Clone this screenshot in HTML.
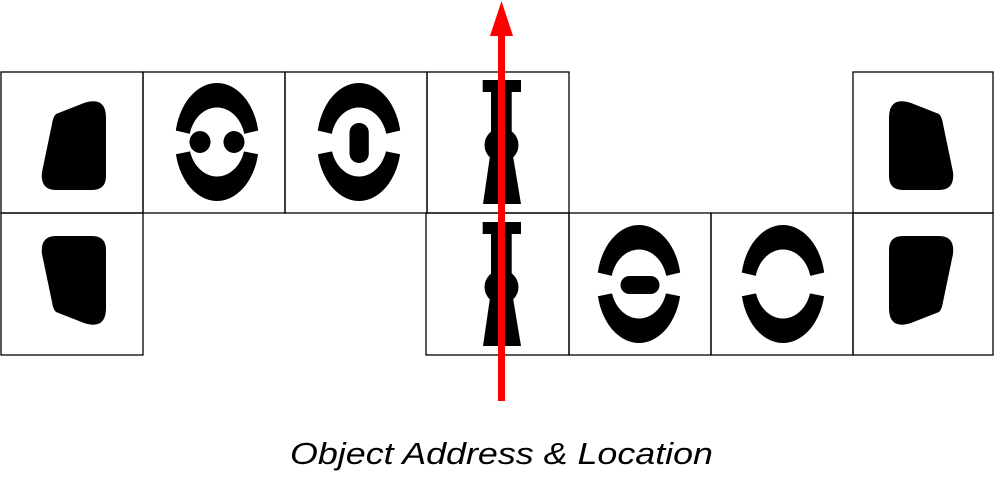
<!DOCTYPE html>
<html><head><meta charset="utf-8"><style>html,body{margin:0;padding:0;background:#fff}svg{display:block}</style></head>
<body>
<svg width="995" height="479" viewBox="0 0 995 479" xmlns="http://www.w3.org/2000/svg">
<defs>
<path id="blob" d="M56,42 L84,31 Q106,24 106,46 L106,104 Q106,118 92,118 L56,118 Q40,118 42,100 L52,52 Q53,45 56,42 Z" fill="#000"/>
<g id="ring">
<ellipse cx="0" cy="0" rx="42" ry="59" fill="#000"/>
<ellipse cx="0" cy="0" rx="28" ry="34.5" fill="#fff"/>
<polygon points="-50,-13.5 -20,-6.5 -20,8 -50,14" fill="#fff"/>
<polygon points="50,-13.5 20,-6.5 20,8 50,14" fill="#fff"/>
</g>
<g id="key">
<rect x="482.7" y="8" width="38.3" height="12" fill="#000"/>
<rect x="491" y="19" width="20.7" height="45" fill="#000"/>
<circle cx="501.5" cy="73" r="17" fill="#000"/>
<polygon points="490,84 513,84 521,132 483,132" fill="#000"/>
</g>
</defs>
<g fill="none" stroke="#000" stroke-width="1.3">
<rect x="1" y="72" width="142" height="141"/>
<rect x="143" y="72" width="142" height="141"/>
<rect x="285" y="72" width="142" height="141"/>
<rect x="427" y="72" width="142" height="141"/>
<rect x="853" y="72" width="140" height="141"/>
<rect x="1" y="213" width="142" height="142"/>
<rect x="426" y="213" width="143" height="142"/>
<rect x="569" y="213" width="142" height="142"/>
<rect x="711" y="213" width="142" height="142"/>
<rect x="853" y="213" width="140" height="142"/>
</g>
<use href="#blob" transform="translate(0,72)"/>
<use href="#blob" transform="translate(0,354) scale(1,-1)"/>
<use href="#blob" transform="translate(995,72) scale(-1,1)"/>
<use href="#blob" transform="translate(995,354) scale(-1,-1)"/>
<use href="#ring" transform="translate(217,142)"/>
<ellipse cx="200" cy="142" rx="10.5" ry="11" fill="#000"/>
<ellipse cx="234" cy="142" rx="10.5" ry="11" fill="#000"/>
<use href="#ring" transform="translate(359,142)"/>
<rect x="349.5" y="123" width="19.3" height="40" rx="9.5" fill="#000"/>
<use href="#ring" transform="translate(639,284)"/>
<rect x="620.5" y="276" width="39" height="18" rx="9" fill="#000"/>
<use href="#ring" transform="translate(783,284)"/>
<use href="#key" transform="translate(0,72)"/>
<use href="#key" transform="translate(0,214)"/>
<rect x="498" y="33" width="7" height="368" fill="#ff0000"/>
<polygon points="501.5,1 490,36 513,36" fill="#ff0000"/>
<text x="290" y="464" font-family="Liberation Sans, sans-serif" font-style="italic" font-size="31" textLength="423" lengthAdjust="spacingAndGlyphs" fill="#000">Object Address &amp; Location</text>
</svg>
</body></html>
